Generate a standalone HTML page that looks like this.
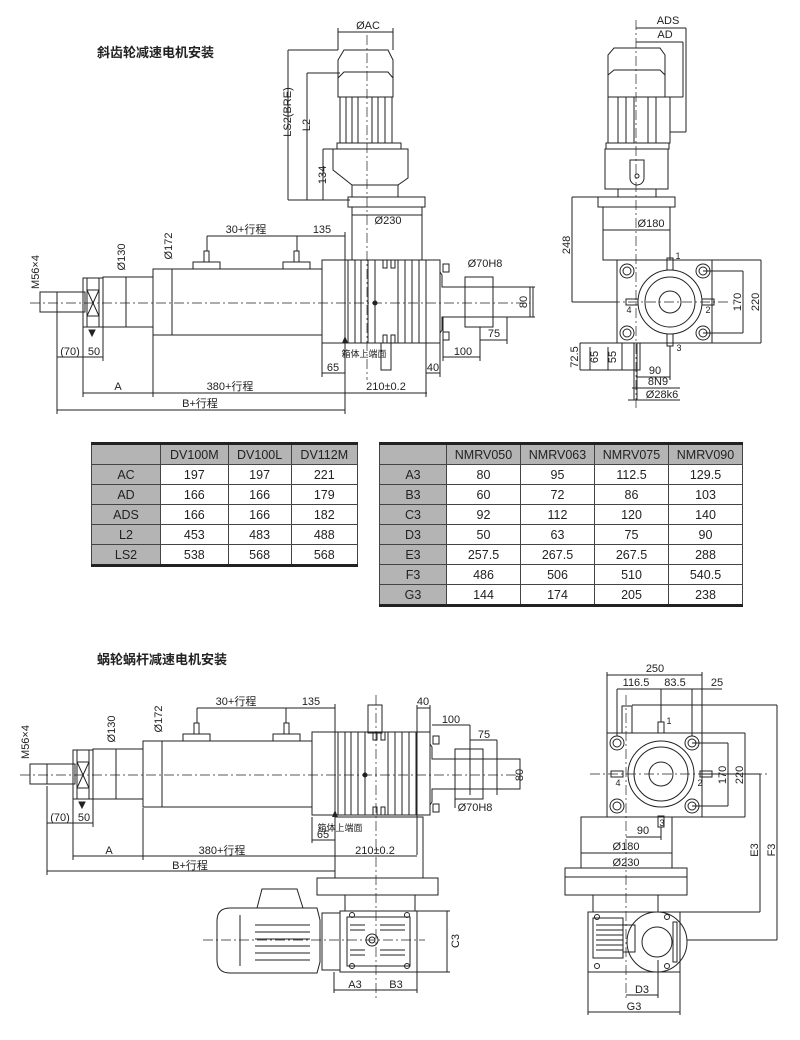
<!DOCTYPE html>
<html><head><meta charset="utf-8"><style>
html,body{margin:0;padding:0;background:#fff;}
svg{display:block;}
text{font-family:"Liberation Sans","Noto Sans CJK SC",sans-serif;fill:#222;}
.t{font-size:11px;}
.h{font-size:13px;font-weight:bold;}
table{border-collapse:collapse;position:absolute;font-family:"Liberation Sans",sans-serif;font-size:12.5px;color:#222;}
td{border:1px solid #444;text-align:center;height:19px;padding:0;}
td.g{background:#b4b4b4;}
tr:first-child td{border-top:3px solid #222;}
tr:last-child td{border-bottom:3px solid #222;}
</style></head><body>
<div style="position:relative;width:800px;height:1040px;">
<svg width="800" height="1040" viewBox="0 0 800 1040" xmlns="http://www.w3.org/2000/svg">
<defs>
<g id="cyl" stroke="#222" stroke-width="1" fill="none">
  <rect x="40" y="292" width="17" height="20"/>
  <rect x="57" y="292" width="28" height="20"/>
  <rect x="83" y="278" width="20" height="49"/>
  <line x1="87" y1="278" x2="87" y2="327"/><line x1="99" y1="278" x2="99" y2="327"/>
  <line x1="87" y1="290" x2="99" y2="316"/><line x1="99" y1="290" x2="87" y2="316"/>
  <line x1="87" y1="316" x2="99" y2="316"/><line x1="87" y1="290" x2="99" y2="290"/>
  <rect x="103" y="277" width="50" height="50"/>
  <rect x="153" y="269" width="169" height="66"/>
  <line x1="172" y1="269" x2="172" y2="335"/>
  <line x1="126" y1="277" x2="126" y2="327"/>
  <rect x="193" y="262" width="27" height="7"/><rect x="283" y="262" width="27" height="7"/>
  <rect x="204" y="251" width="5" height="11"/><rect x="294" y="251" width="5" height="11"/>
  <rect x="322" y="260" width="118" height="83"/>
  <line x1="348" y1="260" x2="348" y2="343"/><line x1="355" y1="260" x2="355" y2="343"/>
  <line x1="361" y1="260" x2="361" y2="343"/><line x1="368" y1="260" x2="368" y2="343"/>
  <line x1="375" y1="260" x2="375" y2="343"/><line x1="398" y1="260" x2="398" y2="343"/>
  <line x1="405" y1="260" x2="405" y2="343"/><line x1="412" y1="260" x2="412" y2="343"/>
  <line x1="419" y1="260" x2="419" y2="343"/><line x1="426" y1="260" x2="426" y2="343"/>
  <rect x="383" y="260" width="4" height="8"/><rect x="391" y="260" width="4" height="8"/>
  <rect x="383" y="335" width="4" height="8"/><rect x="391" y="335" width="4" height="8"/>
  <line x1="375" y1="296" x2="375" y2="310"/><circle cx="375" cy="303" r="2" fill="#222"/>
  <path d="M440 272 L442 275 L442 287 L530 287 L530 317 L442 317 L442 330 L440 333"/>
  <rect x="465" y="277" width="28" height="50"/>
  <rect x="443" y="264" width="6" height="8"/><rect x="443" y="332" width="6" height="8"/>
  <line x1="30" y1="303" x2="530" y2="303" stroke-dasharray="10 3 2 3" stroke-width="0.7"/>
  <path d="M89 330 L95 330 L92 336 Z" fill="#222"/>
</g>
</defs>

<text x="97" y="57" class="h">斜齿轮减速电机安装</text>
<use href="#cyl"/>
<g stroke="#222" stroke-width="1" fill="none">
  <!-- motor top-left view -->
  <path d="M338 97 L338 60 L344 50 L388 50 L393 60 L393 97 Z"/>
  <path d="M338 78 L344 72 L388 72 L393 78"/>
  <rect x="340" y="97" width="52" height="46"/>
  <line x1="346" y1="97" x2="346" y2="143"/><line x1="352" y1="97" x2="352" y2="143"/><line x1="358" y1="97" x2="358" y2="143"/>
  <line x1="372" y1="97" x2="372" y2="143"/><line x1="378" y1="97" x2="378" y2="143"/><line x1="385" y1="97" x2="385" y2="143"/>
  <rect x="337" y="143" width="64" height="6"/>
  <path d="M333 149 L408 149 L408 178 L398 185 L352 185 L333 170 Z"/>
  <rect x="352" y="185" width="46" height="12"/>
  <rect x="348" y="197" width="77" height="10"/>
  <rect x="352" y="207" width="70" height="53"/>
  <line x1="352" y1="215" x2="422" y2="215"/>
  <rect x="381" y="343" width="10" height="27"/>
  <line x1="367" y1="35" x2="367" y2="380" stroke-dasharray="10 3 2 3" stroke-width="0.7"/>
  <!-- dims -->
  <line x1="338" y1="32" x2="393" y2="32"/><line x1="338" y1="28" x2="338" y2="50"/><line x1="393" y1="28" x2="393" y2="50"/>
  <line x1="288" y1="50" x2="338" y2="50"/><line x1="288" y1="50" x2="288" y2="200"/><line x1="288" y1="200" x2="350" y2="200"/>
  <line x1="307" y1="73" x2="340" y2="73"/><line x1="307" y1="73" x2="307" y2="200"/>
  <line x1="323" y1="149" x2="333" y2="149"/><line x1="323" y1="149" x2="323" y2="200"/>
  <line x1="207" y1="236" x2="345" y2="236"/><line x1="207" y1="236" x2="207" y2="251"/><line x1="297" y1="236" x2="297" y2="251"/><line x1="345" y1="232" x2="345" y2="343"/>
  <line x1="57" y1="312" x2="57" y2="414"/><line x1="83" y1="327" x2="83" y2="397"/><line x1="103" y1="327" x2="103" y2="361"/>
  <line x1="57" y1="357" x2="103" y2="357"/><line x1="153" y1="335" x2="153" y2="397"/>
  <line x1="83" y1="393" x2="427" y2="393"/><line x1="57" y1="410" x2="345" y2="410"/><line x1="345" y1="343" x2="345" y2="414"/>
  <line x1="322" y1="343" x2="322" y2="377"/><line x1="322" y1="373" x2="345" y2="373"/>
  <line x1="426" y1="343" x2="426" y2="397"/><line x1="440" y1="343" x2="440" y2="377"/><line x1="426" y1="373" x2="440" y2="373"/>
  <line x1="443" y1="317" x2="443" y2="361"/><line x1="443" y1="357" x2="480" y2="357"/><line x1="480" y1="327" x2="480" y2="361"/>
  <line x1="480" y1="340" x2="507" y2="340"/><line x1="507" y1="317" x2="507" y2="344"/>
  <line x1="530" y1="287" x2="535" y2="287"/><line x1="530" y1="317" x2="535" y2="317"/><line x1="533" y1="287" x2="533" y2="317"/>
</g>
<path d="M342 343 L348 343 L345 336 Z" fill="#222"/>
<g class="t" text-anchor="middle">
  <text x="368" y="29">ØAC</text>
  <text transform="translate(291,112) rotate(-90)">LS2(BRE)</text>
  <text transform="translate(310,125) rotate(-90)">L2</text>
  <text transform="translate(326,175) rotate(-90)">134</text>
  <text x="388" y="224">Ø230</text>
  <text x="246" y="233">30+行程</text><text x="322" y="233">135</text>
  <text transform="translate(125,257) rotate(-90)">Ø130</text>
  <text transform="translate(172,246) rotate(-90)">Ø172</text>
  <text transform="translate(39,272) rotate(-90)">M56×4</text>
  <text x="70" y="355">(70)</text><text x="94" y="355">50</text>
  <text x="118" y="390">A</text><text x="230" y="390">380+行程</text><text x="386" y="390">210±0.2</text>
  <text x="200" y="407">B+行程</text>
  <text x="333" y="371">65</text><text x="433" y="371">40</text>
  <text x="463" y="355">100</text><text x="494" y="337">75</text>
  <text transform="translate(527,302) rotate(-90)">80</text>
  <text x="485" y="267">Ø70H8</text>
  <text x="364" y="357" style="font-size:9px">箱体上端面</text>
</g>

<!-- top-right view -->
<g stroke="#222" stroke-width="1" fill="none">
  <path d="M608 97 L608 55 L614 48 L660 48 L665 55 L665 97 Z"/>
  <path d="M608 75 L614 70 L660 70 L665 75"/>
  <rect x="608" y="97" width="62" height="46"/>
  <line x1="618" y1="97" x2="618" y2="143"/><line x1="626" y1="97" x2="626" y2="143"/><line x1="634" y1="97" x2="634" y2="143"/>
  <line x1="648" y1="97" x2="648" y2="143"/><line x1="656" y1="97" x2="656" y2="143"/>
  <rect x="606" y="143" width="63" height="6"/>
  <rect x="605" y="149" width="63" height="40"/>
  <rect x="618" y="189" width="38" height="8"/>
  <path d="M630 160 L644 160 L644 178 A7 7 0 0 1 630 178 Z"/><circle cx="637" cy="176" r="2"/>
  <rect x="598" y="197" width="77" height="10"/>
  <rect x="603" y="207" width="67" height="53"/>
  <rect x="617" y="260" width="95" height="83"/>
  <circle cx="670" cy="302" r="32"/><circle cx="670" cy="302" r="25"/><circle cx="670" cy="302" r="11"/>
  <circle cx="627" cy="271" r="7"/><circle cx="627" cy="271" r="4"/><circle cx="703" cy="271" r="7"/><circle cx="703" cy="271" r="4"/>
  <circle cx="627" cy="333" r="7"/><circle cx="627" cy="333" r="4"/><circle cx="703" cy="333" r="7"/><circle cx="703" cy="333" r="4"/>
  <rect x="667" y="258" width="6" height="12"/><rect x="667" y="334" width="6" height="12"/>
  <rect x="626" y="299" width="12" height="6"/><rect x="702" y="299" width="12" height="6"/>
  <line x1="636" y1="20" x2="636" y2="410" stroke-dasharray="10 3 2 3" stroke-width="0.7"/>
  <line x1="610" y1="302" x2="730" y2="302" stroke-dasharray="10 3 2 3" stroke-width="0.7"/>
  <line x1="636" y1="28" x2="686" y2="28"/><line x1="686" y1="28" x2="686" y2="132"/><line x1="670" y1="132" x2="686" y2="132"/>
  <line x1="636" y1="42" x2="683" y2="42"/><line x1="683" y1="42" x2="683" y2="97"/><line x1="665" y1="97" x2="683" y2="97"/>
  <line x1="572" y1="197" x2="598" y2="197"/><line x1="572" y1="197" x2="572" y2="302"/><line x1="572" y1="302" x2="617" y2="302"/>
  <line x1="603" y1="230" x2="670" y2="230"/>
  <line x1="703" y1="271" x2="743" y2="271"/><line x1="703" y1="333" x2="743" y2="333"/><line x1="743" y1="271" x2="743" y2="333"/>
  <line x1="712" y1="260" x2="761" y2="260"/><line x1="712" y1="343" x2="761" y2="343"/><line x1="761" y1="260" x2="761" y2="343"/>
  <rect x="622" y="343" width="18" height="27"/><line x1="634" y1="343" x2="634" y2="400"/><line x1="637" y1="343" x2="637" y2="400"/>
  <line x1="580" y1="343" x2="617" y2="343"/><line x1="580" y1="343" x2="580" y2="370"/><line x1="580" y1="370" x2="622" y2="370"/>
  <line x1="590" y1="347" x2="590" y2="370"/><line x1="608" y1="347" x2="608" y2="370"/>
  <line x1="636" y1="377" x2="670" y2="377"/><line x1="670" y1="346" x2="670" y2="380"/>
  <line x1="632" y1="388" x2="680" y2="388"/><line x1="628" y1="400" x2="680" y2="400"/>
</g>
<g class="t" text-anchor="middle">
  <text x="668" y="24">ADS</text><text x="665" y="38">AD</text>
  <text x="651" y="227">Ø180</text>
  <text transform="translate(570,245) rotate(-90)">248</text>
  <text transform="translate(741,302) rotate(-90)">170</text>
  <text transform="translate(759,302) rotate(-90)">220</text>
  <text x="678" y="259" style="font-size:9px">1</text><text x="708" y="313" style="font-size:9px">2</text>
  <text x="679" y="351" style="font-size:9px">3</text><text x="629" y="313" style="font-size:9px">4</text>
  <text transform="translate(578,357) rotate(-90)">72.5</text>
  <text transform="translate(598,357) rotate(-90)">65</text>
  <text transform="translate(616,357) rotate(-90)">55</text>
  <text x="655" y="374">90</text><text x="658" y="385">8N9</text><text x="662" y="398">Ø28k6</text>
</g>

<!-- bottom-left view -->
<text x="97" y="664" class="h">蜗轮蜗杆减速电机安装</text>
<use href="#cyl" transform="translate(-10,472)"/>
<g stroke="#222" stroke-width="1" fill="none">
  <rect x="368" y="705" width="14" height="28"/>
  <line x1="376" y1="695" x2="376" y2="1000" stroke-dasharray="10 3 2 3" stroke-width="0.7"/>
  <rect x="335" y="817" width="88" height="61"/>
  <rect x="317" y="878" width="121" height="17"/>
  <rect x="345" y="895" width="70" height="16"/>
  <rect x="340" y="911" width="77" height="61"/>
  <rect x="347" y="917" width="63" height="49"/>
  <circle cx="372" cy="940" r="6"/><circle cx="372" cy="940" r="3"/>
  <line x1="350" y1="925" x2="365" y2="925"/><line x1="350" y1="930" x2="365" y2="930"/><line x1="350" y1="950" x2="365" y2="950"/><line x1="350" y1="955" x2="365" y2="955"/>
  <line x1="380" y1="925" x2="405" y2="925"/><line x1="380" y1="930" x2="405" y2="930"/><line x1="380" y1="950" x2="405" y2="950"/><line x1="380" y1="955" x2="405" y2="955"/>
  <circle cx="352" cy="915" r="2.5"/><circle cx="407" cy="915" r="2.5"/><circle cx="352" cy="966" r="2.5"/><circle cx="407" cy="966" r="2.5"/>
  <rect x="322" y="913" width="18" height="57"/>
  <path d="M230 908 L317 908 L320 920 L320 962 L317 973 L230 973 Q217 973 217 960 L217 921 Q217 908 230 908 Z"/>
  <path d="M262 889 L297 889 L303 908 L257 908 Z"/>
  <line x1="255" y1="925" x2="310" y2="925"/><line x1="255" y1="932" x2="310" y2="932"/><line x1="255" y1="939" x2="310" y2="939"/>
  <line x1="255" y1="946" x2="310" y2="946"/><line x1="255" y1="953" x2="310" y2="953"/><line x1="255" y1="960" x2="310" y2="960"/>
  <line x1="240" y1="915" x2="240" y2="966"/>
  <line x1="203" y1="940" x2="425" y2="940" stroke-dasharray="10 3 2 3" stroke-width="0.7"/>
  <line x1="417" y1="911" x2="450" y2="911"/><line x1="417" y1="972" x2="450" y2="972"/><line x1="447" y1="911" x2="447" y2="972"/>
  <line x1="334" y1="972" x2="334" y2="993"/><line x1="417" y1="972" x2="417" y2="993"/>
  <line x1="334" y1="990" x2="417" y2="990"/>
  <!-- dims -->
  <line x1="197" y1="708" x2="335" y2="708"/><line x1="197" y1="708" x2="197" y2="723"/><line x1="286" y1="708" x2="286" y2="723"/><line x1="335" y1="704" x2="335" y2="875"/>
  <line x1="417" y1="705" x2="417" y2="855"/><line x1="417" y1="708" x2="430" y2="708"/><line x1="430" y1="705" x2="430" y2="733"/>
  <line x1="432" y1="725" x2="470" y2="725"/><line x1="470" y1="725" x2="470" y2="795"/>
  <line x1="470" y1="740" x2="497" y2="740"/><line x1="497" y1="740" x2="497" y2="795"/>
  <line x1="455" y1="795" x2="455" y2="808"/>
  <line x1="47" y1="786" x2="47" y2="875"/><line x1="73" y1="799" x2="73" y2="860"/><line x1="93" y1="799" x2="93" y2="827"/>
  <line x1="47" y1="823" x2="93" y2="823"/><line x1="143" y1="808" x2="143" y2="860"/>
  <line x1="73" y1="856" x2="417" y2="856"/><line x1="47" y1="871" x2="335" y2="871"/>
  <line x1="312" y1="817" x2="312" y2="843"/><line x1="312" y1="840" x2="335" y2="840"/>
</g>
<path d="M332 817 L338 817 L335 810 Z" fill="#222"/>
<g class="t" text-anchor="middle">
  <text x="236" y="705">30+行程</text><text x="311" y="705">135</text><text x="423" y="705">40</text>
  <text x="451" y="723">100</text><text x="484" y="738">75</text>
  <text transform="translate(523,775) rotate(-90)">80</text>
  <text x="475" y="811">Ø70H8</text>
  <text transform="translate(115,729) rotate(-90)">Ø130</text>
  <text transform="translate(162,719) rotate(-90)">Ø172</text>
  <text transform="translate(29,742) rotate(-90)">M56×4</text>
  <text x="60" y="821">(70)</text><text x="84" y="821">50</text>
  <text x="109" y="854">A</text><text x="222" y="854">380+行程</text><text x="375" y="854">210±0.2</text>
  <text x="190" y="869">B+行程</text>
  <text x="323" y="838">65</text>
  <text x="340" y="831" style="font-size:9px">箱体上端面</text>
  <text transform="translate(459,941) rotate(-90)">C3</text>
  <text x="355" y="988">A3</text><text x="396" y="988">B3</text>
</g>

<!-- bottom-right view -->
<g stroke="#222" stroke-width="1" fill="none">
  <rect x="607" y="733" width="95" height="84"/>
  <circle cx="661" cy="774" r="33"/><circle cx="661" cy="774" r="27"/><circle cx="661" cy="774" r="12"/>
  <circle cx="617" cy="743" r="7"/><circle cx="617" cy="743" r="4"/><circle cx="692" cy="743" r="7"/><circle cx="692" cy="743" r="4"/>
  <circle cx="617" cy="806" r="7"/><circle cx="617" cy="806" r="4"/><circle cx="692" cy="806" r="7"/><circle cx="692" cy="806" r="4"/>
  <rect x="658" y="722" width="6" height="11"/><rect x="658" y="816" width="6" height="11"/>
  <rect x="611" y="771" width="12" height="6"/><rect x="700" y="771" width="12" height="6"/>
  <rect x="622" y="706" width="10" height="27"/>
  <rect x="581" y="817" width="91" height="51"/>
  <rect x="565" y="868" width="122" height="27"/><line x1="565" y1="877" x2="687" y2="877"/>
  <rect x="593" y="895" width="65" height="17"/>
  <rect x="588" y="912" width="92" height="60"/>
  <circle cx="657" cy="942" r="30"/><circle cx="657" cy="942" r="15"/>
  <line x1="596" y1="925" x2="623" y2="925"/><line x1="596" y1="930" x2="623" y2="930"/><line x1="596" y1="935" x2="623" y2="935"/>
  <line x1="596" y1="940" x2="623" y2="940"/><line x1="596" y1="945" x2="623" y2="945"/><line x1="596" y1="950" x2="623" y2="950"/>
  <rect x="593" y="918" width="30" height="40"/><rect x="623" y="925" width="12" height="27"/>
  <rect x="673" y="922" width="4" height="40"/>
  <circle cx="597" cy="917" r="2.5"/><circle cx="667" cy="917" r="2.5"/><circle cx="597" cy="966" r="2.5"/><circle cx="667" cy="966" r="2.5"/>
  <line x1="626" y1="695" x2="626" y2="1000" stroke-dasharray="10 3 2 3" stroke-width="0.7"/>
  <line x1="590" y1="774" x2="770" y2="774" stroke-dasharray="10 3 2 3" stroke-width="0.7"/>
  <line x1="607" y1="675" x2="702" y2="675"/><line x1="607" y1="672" x2="607" y2="733"/><line x1="702" y1="672" x2="702" y2="733"/>
  <line x1="617" y1="689" x2="722" y2="689"/><line x1="617" y1="689" x2="617" y2="736"/><line x1="661" y1="689" x2="661" y2="722"/><line x1="692" y1="689" x2="692" y2="736"/>
  <line x1="632" y1="705" x2="777" y2="705"/><line x1="777" y1="705" x2="777" y2="940"/><line x1="687" y1="940" x2="777" y2="940"/>
  <line x1="700" y1="774" x2="760" y2="774"/><line x1="760" y1="774" x2="760" y2="912"/><line x1="680" y1="912" x2="760" y2="912"/>
  <line x1="692" y1="743" x2="728" y2="743"/><line x1="692" y1="806" x2="728" y2="806"/><line x1="728" y1="743" x2="728" y2="806"/>
  <line x1="702" y1="733" x2="745" y2="733"/><line x1="702" y1="817" x2="745" y2="817"/><line x1="745" y1="733" x2="745" y2="817"/>
  <line x1="626" y1="837" x2="661" y2="837"/><line x1="661" y1="827" x2="661" y2="840"/>
  <line x1="581" y1="853" x2="672" y2="853"/>
  <line x1="626" y1="995" x2="658" y2="995"/><line x1="658" y1="960" x2="658" y2="998"/>
  <line x1="588" y1="972" x2="588" y2="1015"/><line x1="680" y1="972" x2="680" y2="1015"/><line x1="588" y1="1012" x2="680" y2="1012"/>
</g>
<g class="t" text-anchor="middle">
  <text x="655" y="672">250</text>
  <text x="636" y="686">116.5</text><text x="675" y="686">83.5</text><text x="717" y="686">25</text>
  <text x="669" y="724" style="font-size:9px">1</text><text x="700" y="786" style="font-size:9px">2</text>
  <text x="662" y="826" style="font-size:9px">3</text><text x="618" y="786" style="font-size:9px">4</text>
  <text transform="translate(726,775) rotate(-90)">170</text>
  <text transform="translate(743,775) rotate(-90)">220</text>
  <text transform="translate(758,850) rotate(-90)">E3</text>
  <text transform="translate(775,850) rotate(-90)">F3</text>
  <text x="643" y="834">90</text>
  <text x="626" y="850">Ø180</text><text x="626" y="866">Ø230</text>
  <text x="642" y="993">D3</text><text x="634" y="1010">G3</text>
</g>
</svg>

<table style="left:91px;top:442px;width:267px;">
<tr><td class="g" style="width:68px"></td><td class="g">DV100M</td><td class="g">DV100L</td><td class="g">DV112M</td></tr>
<tr><td class="g">AC</td><td>197</td><td>197</td><td>221</td></tr>
<tr><td class="g">AD</td><td>166</td><td>166</td><td>179</td></tr>
<tr><td class="g">ADS</td><td>166</td><td>166</td><td>182</td></tr>
<tr><td class="g">L2</td><td>453</td><td>483</td><td>488</td></tr>
<tr><td class="g">LS2</td><td>538</td><td>568</td><td>568</td></tr>
</table>
<table style="left:379px;top:442px;width:364px;">
<tr><td class="g" style="width:66px"></td><td class="g">NMRV050</td><td class="g">NMRV063</td><td class="g">NMRV075</td><td class="g">NMRV090</td></tr>
<tr><td class="g">A3</td><td>80</td><td>95</td><td>112.5</td><td>129.5</td></tr>
<tr><td class="g">B3</td><td>60</td><td>72</td><td>86</td><td>103</td></tr>
<tr><td class="g">C3</td><td>92</td><td>112</td><td>120</td><td>140</td></tr>
<tr><td class="g">D3</td><td>50</td><td>63</td><td>75</td><td>90</td></tr>
<tr><td class="g">E3</td><td>257.5</td><td>267.5</td><td>267.5</td><td>288</td></tr>
<tr><td class="g">F3</td><td>486</td><td>506</td><td>510</td><td>540.5</td></tr>
<tr><td class="g">G3</td><td>144</td><td>174</td><td>205</td><td>238</td></tr>
</table>
</div>
</body></html>
